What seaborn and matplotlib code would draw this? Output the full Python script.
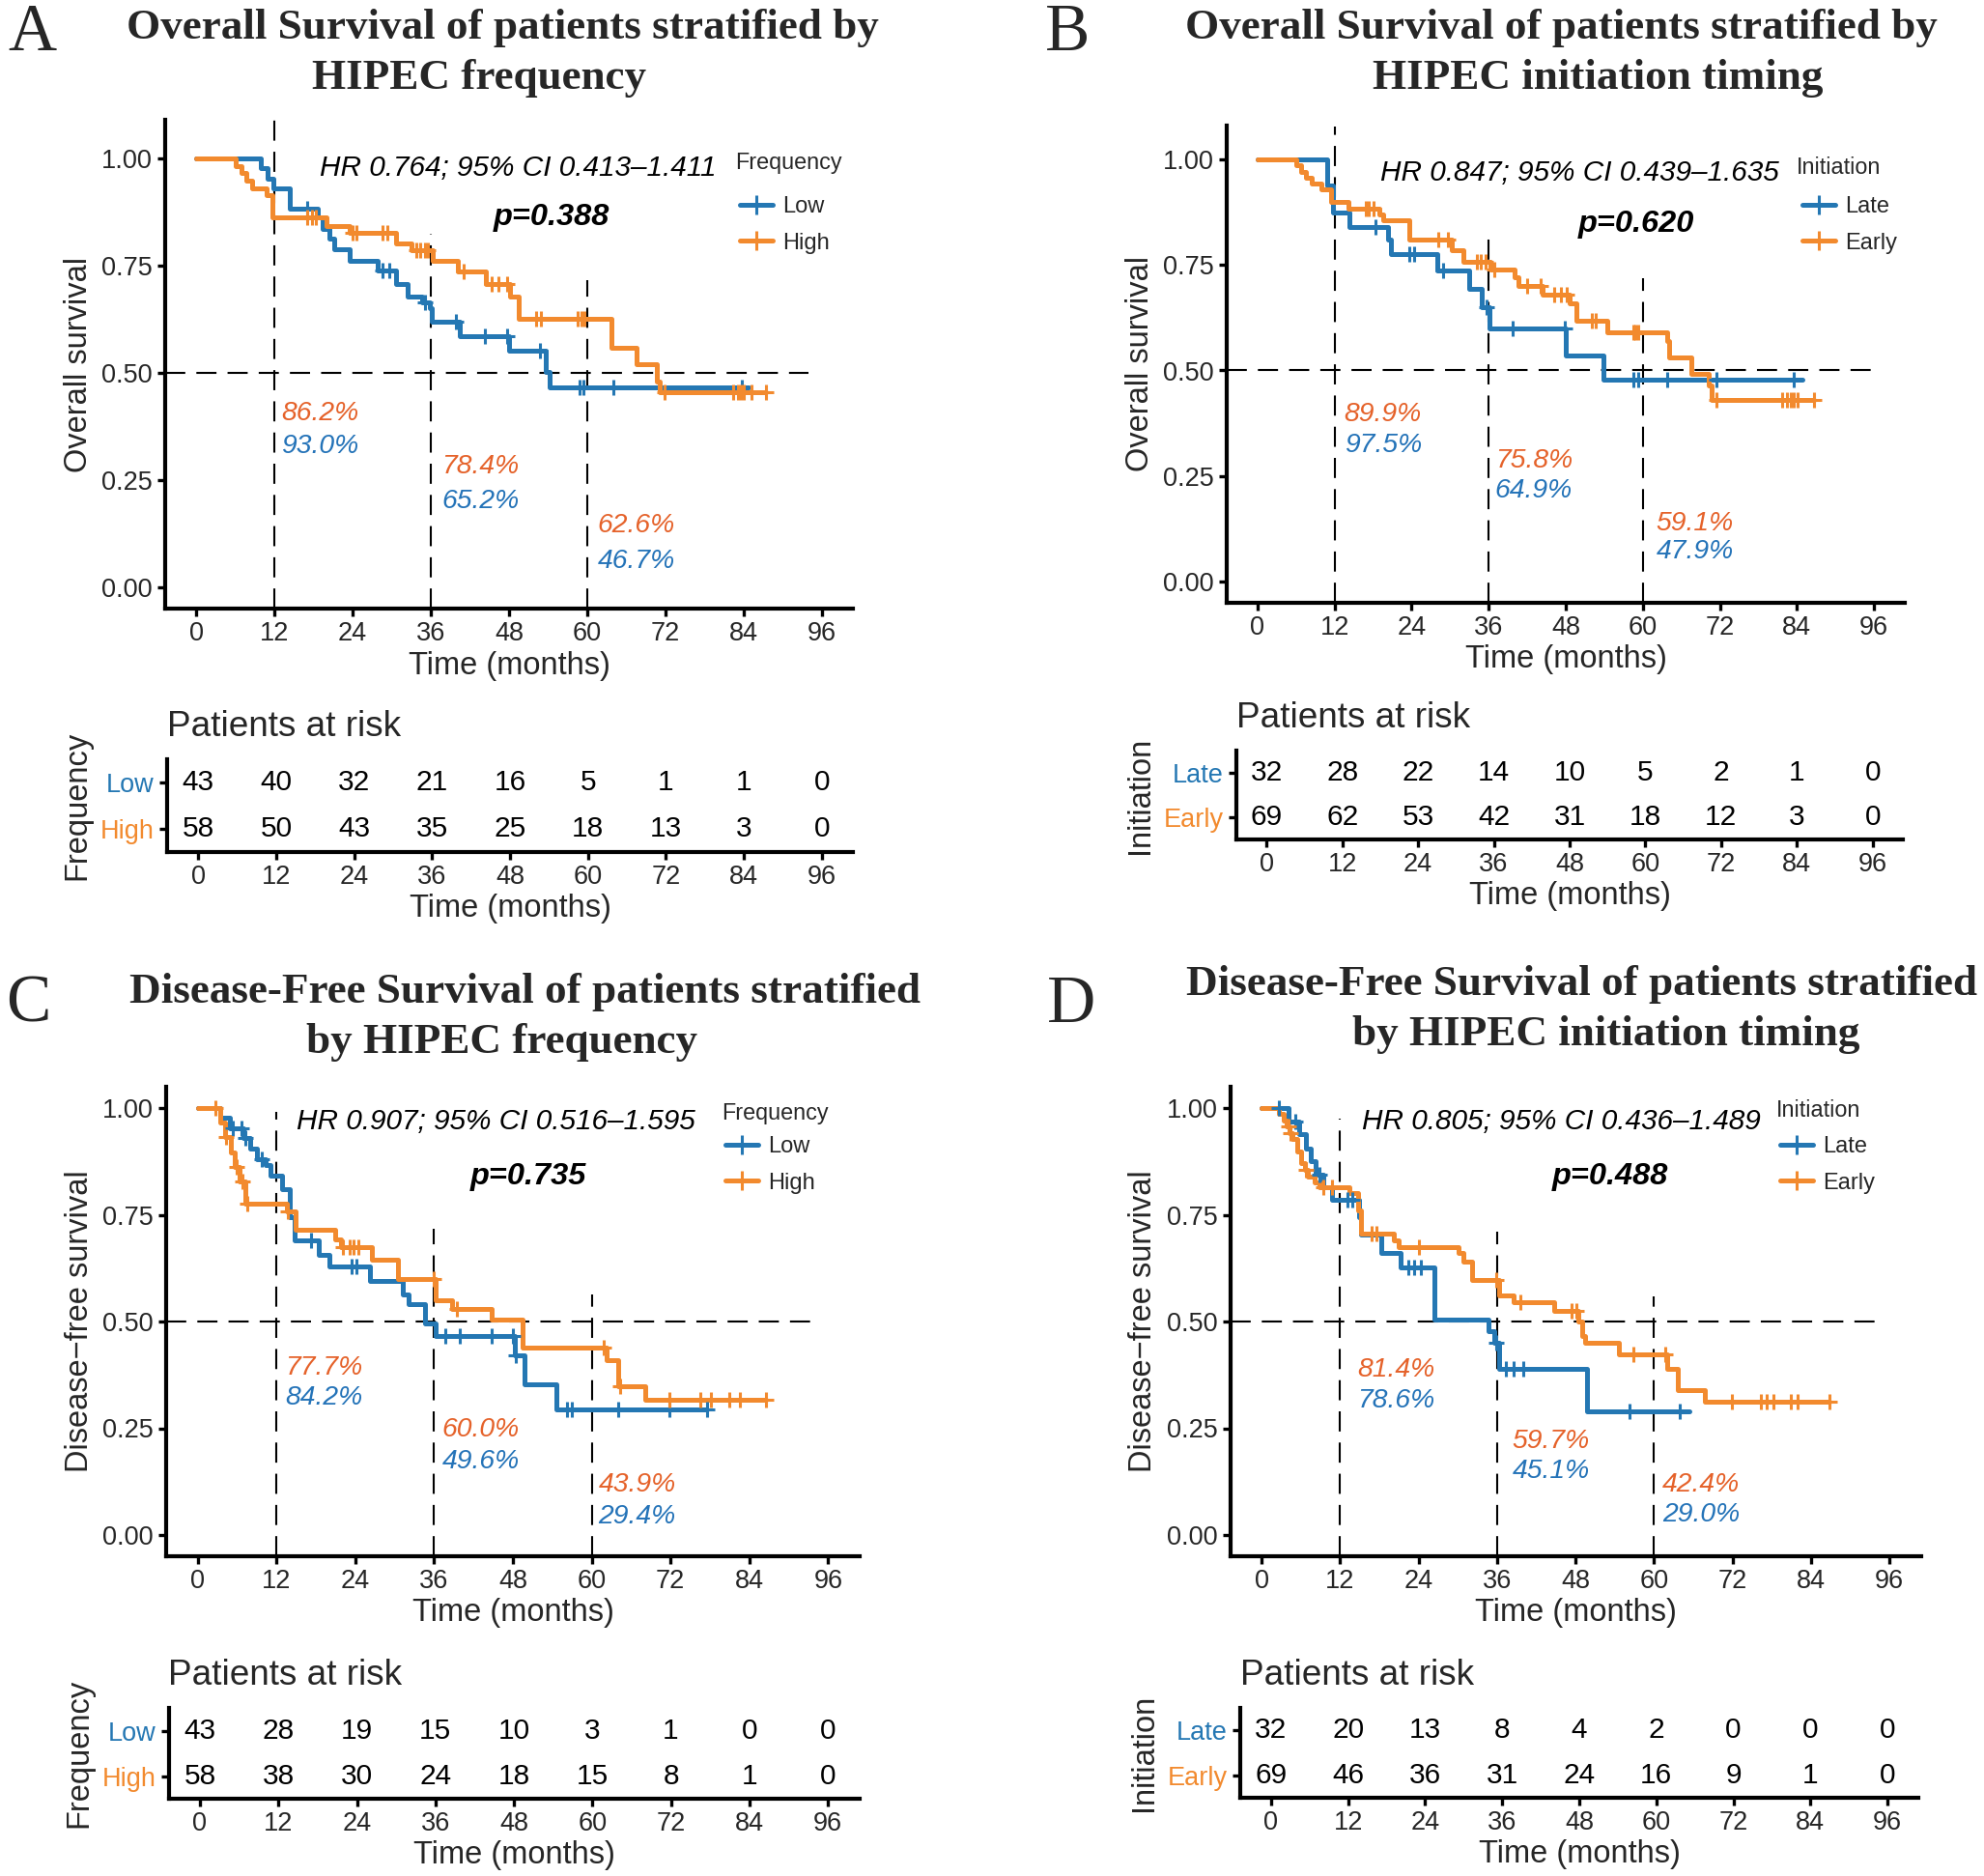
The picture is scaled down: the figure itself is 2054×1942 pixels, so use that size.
import numpy as np
import pandas as pd
import seaborn as sns
import matplotlib.pyplot as plt
from matplotlib.lines import Line2D

sns.set_theme(style="ticks")
plt.rcParams['font.family'] = ['Liberation Sans', 'DejaVu Sans']

W, H = 2054, 1942
BLUE = "#2477b3"
ORANGE = "#f28a2e"
BLUE_TXT = "#2473b8"
ORANGE_TXT = "#e5622a"

months = [0, 12, 24, 36, 48, 60, 72, 84, 96]
landmarks = [12, 36, 60]

# ---- panel A: OS by frequency ----
a_low_time = [9.9, 10.9, 11.8, 14.3, 18.7, 19.4, 20.4, 21.1, 23.5, 27.9, 30.7, 32.4, 34.7, 35.8, 36.1, 40.4, 48.0, 53.6, 54.3]
a_low_surv = [0.977, 0.953, 0.930, 0.883, 0.862, 0.836, 0.814, 0.788, 0.761, 0.739, 0.707, 0.679, 0.664, 0.652, 0.620, 0.585, 0.551, 0.502, 0.467]
a_low_cens = [17.0, 28.6, 29.6, 35.1, 39.9, 44.3, 47.7, 52.8, 58.9, 59.4, 64.0, 83.8]
a_low_end = 84.8
a_high_time = [6.0, 6.9, 7.7, 8.5, 10.7, 11.6, 20.0, 23.5, 30.7, 33.0, 36.3, 40.2, 44.5, 48.2, 49.5, 63.7, 67.6, 70.7, 71.2]
a_high_surv = [0.983, 0.966, 0.948, 0.931, 0.914, 0.862, 0.843, 0.826, 0.801, 0.787, 0.762, 0.737, 0.708, 0.679, 0.626, 0.559, 0.521, 0.480, 0.454]
a_high_cens = [17.0, 17.7, 18.4, 24.0, 24.5, 28.6, 29.3, 33.7, 34.4, 35.1, 35.6, 41.0, 45.3, 46.3, 47.7, 52.1, 52.9,
               58.6, 59.1, 59.5, 71.9, 82.4, 83.1, 83.6, 84.1, 85.2, 87.4]
a_high_end = 87.5
a_risk_low = [43, 40, 32, 21, 16, 5, 1, 1, 0]
a_risk_high = [58, 50, 43, 35, 25, 18, 13, 3, 0]
a_pct_high = ["86.2%", "78.4%", "62.6%"]
a_pct_low = ["93.0%", "65.2%", "46.7%"]
a_hr = "HR 0.764; 95% CI 0.413\u20131.411"
a_p = "p=0.388"

# ---- panel B: OS by initiation timing ----
b_late_time = [10.9, 11.8, 14.3, 20.3, 20.8, 28.0, 33.0, 34.9, 36.1, 48.0, 53.8]
b_late_surv = [0.938, 0.875, 0.840, 0.809, 0.775, 0.737, 0.693, 0.649, 0.600, 0.535, 0.479]
b_late_cens = [18.4, 23.7, 24.4, 28.9, 35.7, 39.8, 47.8, 58.6, 59.3, 63.8, 71.4, 83.5]
b_late_end = 84.8
b_early_time = [6.0, 6.8, 7.5, 8.5, 9.9, 11.5, 14.2, 18.9, 19.6, 23.7, 30.3, 32.0, 36.2, 40.0, 40.6, 44.4, 48.6, 49.6,
                54.5, 63.8, 64.1, 67.6, 70.2, 70.7]
b_early_surv = [0.986, 0.971, 0.957, 0.942, 0.928, 0.899, 0.884, 0.870, 0.855, 0.809, 0.785, 0.758, 0.740, 0.720, 0.700,
                0.680, 0.660, 0.617, 0.591, 0.570, 0.531, 0.493, 0.465, 0.430]
b_early_cens = [16.8, 17.3, 18.0, 28.2, 29.6, 34.1, 34.8, 35.5, 36.8, 42.0, 44.1, 46.2, 47.2, 48.2, 52.0, 52.7, 58.6,
                58.9, 59.3, 71.4, 81.7, 82.4, 83.1, 83.5, 84.1, 86.6]
b_early_end = 86.6
b_risk_late = [32, 28, 22, 14, 10, 5, 2, 1, 0]
b_risk_early = [69, 62, 53, 42, 31, 18, 12, 3, 0]
b_pct_early = ["89.9%", "75.8%", "59.1%"]
b_pct_late = ["97.5%", "64.9%", "47.9%"]
b_hr = "HR 0.847; 95% CI 0.439\u20131.635"
b_p = "p=0.620"

# ---- panel C: DFS by frequency ----
c_low_time = [3.4, 4.9, 7.0, 8.0, 9.0, 10.3, 11.1, 12.8, 14.0, 14.7, 18.4, 20.1, 26.3, 31.3, 32.1, 34.6, 36.3, 48.3,
              49.8, 54.6]
c_low_surv = [0.977, 0.953, 0.930, 0.905, 0.880, 0.866, 0.842, 0.810, 0.744, 0.690, 0.657, 0.630, 0.594, 0.564, 0.541,
              0.496, 0.466, 0.420, 0.352, 0.294]
c_low_cens = [5.3, 6.6, 7.3, 9.7, 17.2, 23.5, 24.2, 37.7, 39.9, 44.8, 48.0, 48.5, 56.2, 56.9, 64.0, 71.8, 77.5]
c_low_end = 77.5
c_high_time = [3.4, 4.1, 5.1, 5.7, 6.4, 7.3, 13.6, 14.9, 21.0, 21.8, 26.5, 30.5, 36.3, 38.7, 44.8, 49.4, 62.2, 64.0, 68.1]
c_high_surv = [0.966, 0.931, 0.897, 0.862, 0.828, 0.777, 0.759, 0.714, 0.692, 0.675, 0.645, 0.600, 0.550, 0.530, 0.505,
               0.439, 0.410, 0.348, 0.316]
c_high_cens = [2.7, 4.3, 5.9, 6.8, 7.6, 13.7, 22.1, 23.2, 23.8, 24.5, 36.0, 39.5, 61.8, 64.3, 71.8, 76.5, 78.2, 80.9,
               82.6, 86.6]
c_high_end = 86.6
c_risk_low = [43, 28, 19, 15, 10, 3, 1, 0, 0]
c_risk_high = [58, 38, 30, 24, 18, 15, 8, 1, 0]
c_pct_high = ["77.7%", "60.0%", "43.9%"]
c_pct_low = ["84.2%", "49.6%", "29.4%"]
c_hr = "HR 0.907; 95% CI 0.516\u20131.595"
c_p = "p=0.735"

# ---- panel D: DFS by initiation timing ----
d_late_time = [4.1, 5.7, 6.8, 7.6, 8.3, 9.5, 10.8, 14.9, 15.2, 18.3, 21.3, 26.4, 34.7, 35.6, 36.3, 49.8]
d_late_surv = [0.969, 0.938, 0.906, 0.875, 0.844, 0.815, 0.786, 0.744, 0.703, 0.661, 0.627, 0.505, 0.477, 0.451, 0.390,
               0.290]
d_late_cens = [2.7, 5.1, 8.8, 13.2, 13.9, 22.4, 23.4, 24.4, 35.9, 37.3, 38.6, 40.0, 56.3, 64.0]
d_late_end = 65.4
d_early_time = [2.7, 3.4, 3.8, 4.3, 4.7, 5.4, 6.1, 6.6, 7.1, 8.1, 8.9, 13.5, 14.8, 15.2, 20.3, 21.0, 30.2, 30.8, 32.2,
                36.3, 38.6, 44.7, 48.5, 49.1, 49.5, 54.6, 62.0, 63.7, 67.8]
d_early_surv = [0.986, 0.971, 0.957, 0.942, 0.928, 0.899, 0.870, 0.855, 0.840, 0.826, 0.814, 0.800, 0.760, 0.706, 0.690,
                0.675, 0.660, 0.640, 0.597, 0.560, 0.545, 0.525, 0.500, 0.465, 0.450, 0.424, 0.390, 0.340, 0.313]
d_early_cens = [4.1, 4.4, 6.8, 9.5, 10.8, 16.9, 17.6, 24.1, 35.9, 39.6, 47.4, 48.2, 56.9, 61.8, 71.9, 76.3, 77.3, 78.3,
                81.0, 82.0, 86.8]
d_early_end = 86.8
d_risk_late = [32, 20, 13, 8, 4, 2, 0, 0, 0]
d_risk_early = [69, 46, 36, 31, 24, 16, 9, 1, 0]
d_pct_early = ["81.4%", "59.7%", "42.4%"]
d_pct_late = ["78.6%", "45.1%", "29.0%"]
d_hr = "HR 0.805; 95% CI 0.436\u20131.489"
d_p = "p=0.488"

panels = [
    dict(letter="A", title=["Overall Survival of patients stratified by", "HIPEC frequency"],
         ylabel="Overall survival", strata="Frequency", names=["Low", "High"],
         curves=[(a_low_time, a_low_surv, a_low_cens, a_low_end), (a_high_time, a_high_surv, a_high_cens, a_high_end)],
         risk=[a_risk_low, a_risk_high], pct=[a_pct_low, a_pct_high], hr=a_hr, p=a_p,
         # layout (pixels / data units)
         km=(171, 608, 883, 444), ytop=1.09, tab=(173, 786, 883, 882),
         title_x=[520, 496], title_y=[40, 92], letter_xy=(8, 52),
         vtop=[1.09, 0.825, 0.716], hend=94, hr_xy=(49.3, 0.977), p_xy=(54.5, 0.862),
         pct_x=[13.0, 37.7, 61.6], pct_y_hi=[0.405, 0.281, 0.145], pct_y_lo=[0.329, 0.200, 0.060],
         leg_title=(761, 168), leg_row=(766, 215)),
    dict(letter="B", title=["Overall Survival of patients stratified by", "HIPEC initiation timing"],
         ylabel="Overall survival", strata="Initiation", names=["Late", "Early"],
         curves=[(b_late_time, b_late_surv, b_late_cens, b_late_end),
                 (b_early_time, b_early_surv, b_early_cens, b_early_end)],
         risk=[b_risk_late, b_risk_early], pct=[b_pct_late, b_pct_early], hr=b_hr, p=b_p,
         km=(1270, 602, 1972, 437), ytop=1.08, tab=(1280, 777, 1970, 869),
         title_x=[1616, 1654], title_y=[40, 92], letter_xy=(1082, 52),
         vtop=[1.078, 0.828, 0.718], hend=96, hr_xy=(50.1, 0.968), p_xy=(59.0, 0.847),
         pct_x=[13.5, 37.0, 62.1], pct_y_hi=[0.396, 0.286, 0.137], pct_y_lo=[0.323, 0.215, 0.071],
         leg_title=(1860, 173), leg_row=(1866, 215)),
    dict(letter="C", title=["Disease-Free Survival of patients stratified", "by HIPEC frequency"],
         ylabel="Disease\u2212free survival", strata="Frequency", names=["Low", "High"],
         curves=[(c_low_time, c_low_surv, c_low_cens, c_low_end), (c_high_time, c_high_surv, c_high_cens, c_high_end)],
         risk=[c_risk_low, c_risk_high], pct=[c_pct_low, c_pct_high], hr=c_hr, p=c_p,
         km=(172, 1589, 890, 442), ytop=1.05, tab=(174.5, 1768, 889.5, 1862),
         title_x=[544, 520], title_y=[1038, 1090], letter_xy=(6, 1058),
         vtop=[0.99, 0.717, 0.563], hend=94, hr_xy=(45.4, 0.968), p_xy=(50.4, 0.839),
         pct_x=[13.3, 37.2, 61.0], pct_y_hi=[0.391, 0.247, 0.118], pct_y_lo=[0.321, 0.172, 0.043],
         leg_title=(747, 1153), leg_row=(751, 1188)),
    dict(letter="D", title=["Disease-Free Survival of patients stratified", "by HIPEC initiation timing"],
         ylabel="Disease\u2212free survival", strata="Initiation", names=["Late", "Early"],
         curves=[(d_late_time, d_late_surv, d_late_cens, d_late_end),
                 (d_early_time, d_early_surv, d_early_cens, d_early_end)],
         risk=[d_risk_late, d_risk_early], pct=[d_pct_late, d_pct_early], hr=d_hr, p=d_p,
         km=(1273.5, 1589, 1988.5, 442), ytop=1.05, tab=(1284, 1768, 1986, 1861),
         title_x=[1638, 1663], title_y=[1030, 1082], letter_xy=(1084, 1058),
         vtop=[0.975, 0.71, 0.559], hend=94, hr_xy=(45.9, 0.968), p_xy=(53.3, 0.839),
         pct_x=[14.6, 38.3, 61.3], pct_y_hi=[0.387, 0.219, 0.118], pct_y_lo=[0.314, 0.149, 0.048],
         leg_title=(1839, 1149), leg_row=(1843, 1188)),
]


def rect(box):
    l, t, r, b = box
    return [l / W, 1 - b / H, (r - l) / W, (b - t) / H]


def style_axes(ax):
    sns.despine(ax=ax)
    for s in ["left", "bottom"]:
        ax.spines[s].set_linewidth(3.0)
        ax.spines[s].set_color("black")
    ax.tick_params(axis="both", width=2.4, length=5.5, color="black", labelsize=19.5, pad=4)
    ax.set_xlim(-4.8, 100.8)
    ax.set_xticks(months)
    ax.set_xticklabels([str(m) for m in months])


fig = plt.figure(figsize=(W / 100, H / 100), dpi=100)
serif = ["Liberation Serif", "DejaVu Serif"]

for pn in panels:
    cols = [BLUE, ORANGE]
    left, y0, right, unit = pn["km"]
    ax = fig.add_axes(rect((left, y0 - pn["ytop"] * unit, right, y0 + 0.05 * unit)))
    frames = []
    for (t, s, c, end), name in zip(pn["curves"], pn["names"]):
        frames.append(pd.DataFrame({"time": [0.0] + t + [end], "surv": [1.0] + s + [s[-1]], "group": name}))
    df = pd.concat(frames, ignore_index=True)
    sns.lineplot(data=df, x="time", y="surv", hue="group", palette=dict(zip(pn["names"], cols)),
                 drawstyle="steps-post", estimator=None, sort=False, lw=3.6, legend=False, ax=ax, zorder=3)
    for (t, s, c, end), col in zip(pn["curves"], cols):
        idx = np.searchsorted(np.array(t), np.array(c), side="right")
        cy = np.concatenate([[1.0], s])[idx]
        sns.scatterplot(x=c, y=cy, marker="+", s=140, color=col, linewidth=2.2, ax=ax, legend=False, zorder=4)

    ax.set_ylim(-0.05, pn["ytop"])
    style_axes(ax)
    ax.set_yticks([0, 0.25, 0.5, 0.75, 1.0])
    ax.set_yticklabels(["0.00", "0.25", "0.50", "0.75", "1.00"])
    ax.set_xlabel("Time (months)", fontsize=23.5, labelpad=3)
    ax.set_ylabel(pn["ylabel"], fontsize=23.5, labelpad=6)

    dash = (0, (10, 5.5))
    ax.plot([-4.8, pn["hend"]], [0.5, 0.5], color="black", lw=1.5, ls=dash, zorder=2)
    for lm, top in zip(landmarks, pn["vtop"]):
        ax.plot([lm, lm], [-0.05, top], color="black", lw=1.5, ls=dash, zorder=2)

    for x, yh, yl, th, tl in zip(pn["pct_x"], pn["pct_y_hi"], pn["pct_y_lo"], pn["pct"][1], pn["pct"][0]):
        ax.text(x, yh, th, color=ORANGE_TXT, fontsize=20.3, style="italic", ha="left", va="center")
        ax.text(x, yl, tl, color=BLUE_TXT, fontsize=20.3, style="italic", ha="left", va="center")

    ax.text(*pn["hr_xy"], pn["hr"], fontsize=21.4, style="italic", ha="center", va="center", color="black")
    ax.text(*pn["p_xy"], pn["p"], fontsize=23.4, style="italic", weight="bold", ha="center", va="center",
            color="black")

    # legend: title as text, entries as a legend anchored in figure pixels
    tx, ty = pn["leg_title"]
    fig.text(tx / W, 1 - ty / H, pn["strata"], fontsize=16.8, ha="left", va="center")
    rx, ry = pn["leg_row"]
    handles = [Line2D([0], [0], color=c, lw=3.6, marker="+", markersize=14, mew=2.2) for c in cols]
    ax.legend(handles, pn["names"], loc="upper left", bbox_to_anchor=(rx / W, 1 - (ry - 12) / H),
              bbox_transform=fig.transFigure, frameon=False, fontsize=17, handlelength=1.45,
              handletextpad=0.4, labelspacing=0.66, borderpad=0, borderaxespad=0)

    # titles
    for line, tx, ty in zip(pn["title"], pn["title_x"], pn["title_y"]):
        fig.text(tx / W, 1 - ty / H, line, family=serif, weight="bold", fontsize=32.5, ha="center", va="baseline")
    lx, ly = pn["letter_xy"]
    fig.text(lx / W, 1 - ly / H, pn["letter"], family=serif, fontsize=50, ha="left", va="baseline")

    # risk table
    rt = fig.add_axes(rect(pn["tab"]))
    rows = pd.DataFrame({"time": months * 2,
                         "row": [2] * len(months) + [1] * len(months),
                         "n": pn["risk"][0] + pn["risk"][1]})
    for _, r in rows.iterrows():
        rt.text(r["time"], r["row"], str(r["n"]), fontsize=21.5, ha="center", va="center", color="black")
    rt.set_ylim(0.5, 2.5)
    style_axes(rt)
    rt.set_yticks([1, 2])
    rt.set_yticklabels([pn["names"][1], pn["names"][0]])
    for lab, col in zip(rt.get_yticklabels(), [ORANGE, BLUE]):
        lab.set_color(col)
    rt.set_xlabel("Time (months)", fontsize=23.5, labelpad=3)
    rt.set_ylabel(pn["strata"], fontsize=23.5, labelpad=6)
    rt.set_title("Patients at risk", loc="left", fontsize=26.6, pad=17)

fig.savefig("out.png", dpi=100, facecolor="white")
